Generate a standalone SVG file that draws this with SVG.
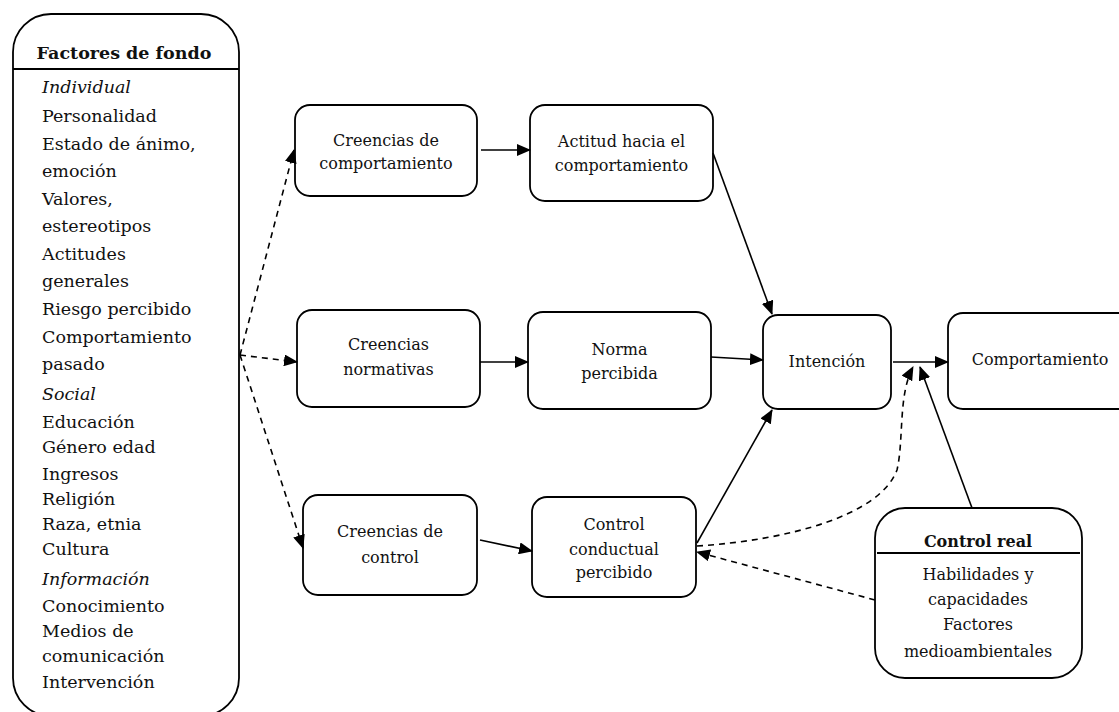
<svg xmlns="http://www.w3.org/2000/svg" width="1119" height="712" viewBox="0 0 1119 712">
<defs>
<style>
.box{fill:#fff;stroke:#000;stroke-width:1.8}
.t{font-family:"DejaVu Serif","Liberation Serif",serif;font-size:16px;fill:#111;text-anchor:middle}
.l{font-family:"DejaVu Serif","Liberation Serif",serif;font-size:17.5px;fill:#111}
.it{font-style:italic}
.b{font-weight:bold}
.c{fill:none;stroke:#000;stroke-width:1.6}
.d{stroke-dasharray:6 5}
</style>
<marker id="ah" markerWidth="14" markerHeight="12" refX="13" refY="6" orient="auto" markerUnits="userSpaceOnUse">
<path d="M0,0 L14,6 L0,12 z" fill="#000"/>
</marker>
</defs>
<rect width="1119" height="712" fill="#fff"/>

<g id="factores">
<rect class="box" x="13" y="14" width="226" height="702" rx="38"/>
<line x1="13" y1="69" x2="239" y2="69" stroke="#000" stroke-width="1.8"/>
<text class="l b" x="124" y="59" text-anchor="middle" font-size="15.5">Factores de fondo</text>
<text class="l it" x="42" y="93">Individual</text>
<text class="l" x="42" y="122">Personalidad</text>
<text class="l" x="42" y="150">Estado de ánimo,</text>
<text class="l" x="42" y="177">emoción</text>
<text class="l" x="42" y="205">Valores,</text>
<text class="l" x="42" y="232">estereotipos</text>
<text class="l" x="42" y="260">Actitudes</text>
<text class="l" x="42" y="287">generales</text>
<text class="l" x="42" y="315">Riesgo percibido</text>
<text class="l" x="42" y="343">Comportamiento</text>
<text class="l" x="42" y="370">pasado</text>
<text class="l it" x="42" y="400">Social</text>
<text class="l" x="42" y="428">Educación</text>
<text class="l" x="42" y="453">Género edad</text>
<text class="l" x="42" y="480">Ingresos</text>
<text class="l" x="42" y="505">Religión</text>
<text class="l" x="42" y="530">Raza, etnia</text>
<text class="l" x="42" y="555">Cultura</text>
<text class="l it" x="42" y="585">Información</text>
<text class="l" x="42" y="612">Conocimiento</text>
<text class="l" x="42" y="637">Medios de</text>
<text class="l" x="42" y="662">comunicación</text>
<text class="l" x="42" y="688">Intervención</text>
</g>

<g id="creencias-comportamiento">
<rect class="box" x="295" y="105" width="182" height="91" rx="15"/>
<text class="t" x="386" y="145.5">Creencias de</text>
<text class="t" x="386" y="168.5">comportamiento</text>
</g>

<g id="actitud">
<rect class="box" x="530" y="105" width="183" height="96" rx="15"/>
<text class="t" x="621.5" y="147">Actitud hacia el</text>
<text class="t" x="621.5" y="171">comportamiento</text>
</g>

<g id="creencias-normativas">
<rect class="box" x="297" y="310" width="183" height="97" rx="15"/>
<text class="t" x="388.5" y="350">Creencias</text>
<text class="t" x="388.5" y="375">normativas</text>
</g>

<g id="norma">
<rect class="box" x="528" y="312" width="183" height="97" rx="15"/>
<text class="t" x="619.5" y="355">Norma</text>
<text class="t" x="619.5" y="379">percibida</text>
</g>

<g id="creencias-control">
<rect class="box" x="303" y="495" width="174" height="100" rx="15"/>
<text class="t" x="390" y="537">Creencias de</text>
<text class="t" x="390" y="563">control</text>
</g>

<g id="control-percibido">
<rect class="box" x="532" y="497" width="164" height="100" rx="15"/>
<text class="t" x="614" y="530">Control</text>
<text class="t" x="614" y="555">conductual</text>
<text class="t" x="614" y="578">percibido</text>
</g>

<g id="intencion">
<rect class="box" x="763" y="315" width="128" height="94" rx="15"/>
<text class="t" x="827" y="367">Intención</text>
</g>

<g id="comportamiento">
<rect class="box" x="948" y="313" width="190" height="96" rx="15"/>
<text class="t" x="1040" y="365">Comportamiento</text>
</g>

<g id="control-real">
<rect class="box" x="875" y="508" width="207" height="170" rx="30"/>
<line x1="877" y1="553" x2="1080" y2="553" stroke="#000" stroke-width="1.8"/>
<text class="t b" x="978" y="547">Control real</text>
<text class="t" x="978" y="580">Habilidades y</text>
<text class="t" x="978" y="605">capacidades</text>
<text class="t" x="978" y="630">Factores</text>
<text class="t" x="978" y="657">medioambientales</text>
</g>

<g id="connectors">
<path class="c d" d="M240,355 L294,150" marker-end="url(#ah)"/>
<path class="c d" d="M240,355 L297,362" marker-end="url(#ah)"/>
<path class="c d" d="M240,355 L303,548" marker-end="url(#ah)"/>
<path class="c" d="M481,150 L530,150" marker-end="url(#ah)"/>
<path class="c" d="M480,362 L528,362" marker-end="url(#ah)"/>
<path class="c" d="M480,540 L532,551" marker-end="url(#ah)"/>
<path class="c" d="M713,153 L772,314" marker-end="url(#ah)"/>
<path class="c" d="M711,357 L763,360" marker-end="url(#ah)"/>
<path class="c" d="M697,543 L772,410" marker-end="url(#ah)"/>
<path class="c" d="M893,362 L948,362" marker-end="url(#ah)"/>
<path class="c" d="M972,508 L920,367" marker-end="url(#ah)"/>
<path class="c d" d="M697,546 C790,540 880,515 897,470 C904,440 898,395 913,367" marker-end="url(#ah)"/>
<path class="c d" d="M875,600 L697,552" marker-end="url(#ah)"/>
</g>
</svg>
